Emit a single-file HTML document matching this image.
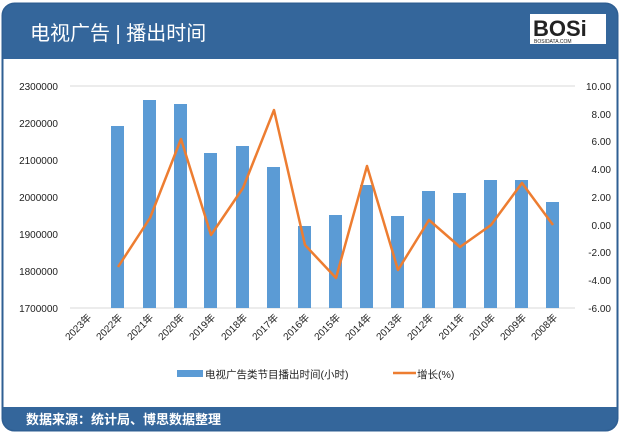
<!DOCTYPE html><html><head><meta charset="utf-8"><style>
body{margin:0;width:621px;height:435px;background:#fff;overflow:hidden;font-family:"Liberation Sans","Noto Sans CJK SC",sans-serif}
</style></head><body>
<svg width="621" height="435" xmlns="http://www.w3.org/2000/svg" font-family="Liberation Sans, Noto Sans CJK SC, sans-serif">
<rect x="2.5" y="3.5" width="615" height="427" rx="12" fill="#fff" stroke="#2f5f93" stroke-width="2"/>
<path d="M3,16 a12,12 0 0 1 12,-12 h590 a12,12 0 0 1 12,12 v43 h-614z" fill="#34669b"/>
<path d="M3,407 h614 v11 a12,12 0 0 1 -12,12 h-590 a12,12 0 0 1 -12,-12z" fill="#34669b"/>
<text x="30" y="40" font-size="20" fill="#fff">电视广告 | 播出时间</text>
<rect x="530" y="14" width="76" height="30" fill="#fff"/>
<text x="533" y="36" font-size="22" font-weight="bold" fill="#222">BOSi</text>
<text x="534" y="43" font-size="5" fill="#222">BOSIDATA.COM</text>
<text x="26" y="424" font-size="13" fill="#fff" font-weight="bold">数据来源：统计局、博思数据整理</text>
<line x1="70" y1="86" x2="575" y2="86" stroke="#d9d9d9"/>
<line x1="70" y1="308" x2="575" y2="308" stroke="#d9d9d9"/>
<g font-size="10" fill="#222" text-anchor="end">
<text x="58" y="90">2300000</text><text x="58" y="127">2200000</text><text x="58" y="164">2100000</text><text x="58" y="201">2000000</text><text x="58" y="238">1900000</text><text x="58" y="275">1800000</text><text x="58" y="312">1700000</text>
</g>
<g font-size="10" fill="#222" text-anchor="end">
<text x="611" y="90">10.00</text><text x="611" y="118">8.00</text><text x="611" y="145">6.00</text><text x="611" y="173">4.00</text><text x="611" y="201">2.00</text><text x="611" y="229">0.00</text><text x="611" y="256">-2.00</text><text x="611" y="284">-4.00</text><text x="611" y="312">-6.00</text>
</g>
<g fill="#5b9bd5">
<rect x="111" y="126" width="13" height="182"/><rect x="143" y="100" width="13" height="208"/><rect x="174" y="104" width="13" height="204"/><rect x="204" y="153" width="13" height="155"/><rect x="236" y="146" width="13" height="162"/><rect x="267" y="167" width="13" height="141"/><rect x="298" y="226" width="13" height="82"/><rect x="329" y="215" width="13" height="93"/><rect x="360" y="185" width="13" height="123"/><rect x="391" y="216" width="13" height="92"/><rect x="422" y="191" width="13" height="117"/><rect x="453" y="193" width="13" height="115"/><rect x="484" y="180" width="13" height="128"/><rect x="515" y="180" width="13" height="128"/><rect x="546" y="202" width="13" height="106"/>
</g>
<polyline fill="none" stroke="#ed7d31" stroke-width="2.5" stroke-linejoin="round" points="118,267 150,218 181,139 211,235 243,188 274,110 305,245 336,278 367,166 398,270 429,220 460,247 491,225 522,183 553,225"/>
<g font-size="10" fill="#222" text-anchor="end">
<text transform="translate(92,318) rotate(-45)">2023年</text><text transform="translate(123,318) rotate(-45)">2022年</text><text transform="translate(154,318) rotate(-45)">2021年</text><text transform="translate(185,318) rotate(-45)">2020年</text><text transform="translate(216,318) rotate(-45)">2019年</text><text transform="translate(248,318) rotate(-45)">2018年</text><text transform="translate(279,318) rotate(-45)">2017年</text><text transform="translate(310,318) rotate(-45)">2016年</text><text transform="translate(341,318) rotate(-45)">2015年</text><text transform="translate(372,318) rotate(-45)">2014年</text><text transform="translate(403,318) rotate(-45)">2013年</text><text transform="translate(434,318) rotate(-45)">2012年</text><text transform="translate(465,318) rotate(-45)">2011年</text><text transform="translate(496,318) rotate(-45)">2010年</text><text transform="translate(527,318) rotate(-45)">2009年</text><text transform="translate(558,318) rotate(-45)">2008年</text>
</g>
<rect x="177" y="370" width="26" height="7" fill="#5b9bd5"/>
<text x="205" y="378" font-size="10.5" fill="#222">电视广告类节目播出时间(小时)</text>
<line x1="393" y1="373" x2="416" y2="373" stroke="#ed7d31" stroke-width="2.5"/>
<text x="417" y="378" font-size="10.5" fill="#222">增长(%)</text>
</svg>
</body></html>
